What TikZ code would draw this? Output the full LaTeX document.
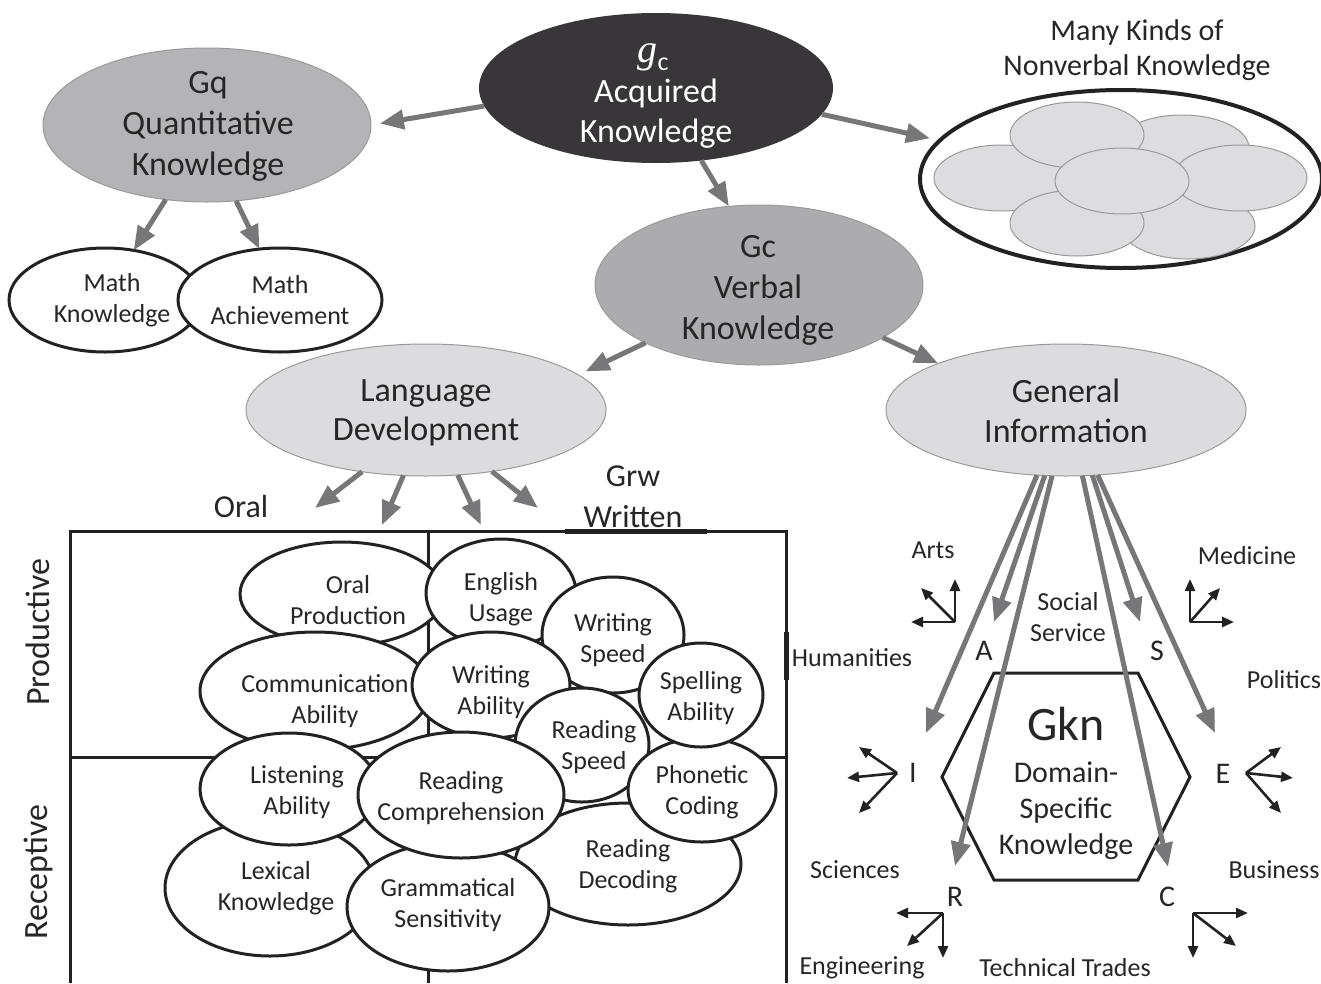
\documentclass[tikz,border=0pt]{standalone}
\usepackage{fontspec}
\setmainfont{Carlito}
\newfontfamily\gserif{Liberation Serif}
\usetikzlibrary{shapes.geometric,arrows.meta}
\definecolor{txt}{HTML}{262626}
\definecolor{arrowgray}{HTML}{77777A}
\definecolor{darkfill}{HTML}{383638}
\definecolor{gqgray}{HTML}{B4B4B6}
\definecolor{gcgray}{HTML}{ACACAE}
\definecolor{lightfill}{HTML}{DCDCDE}
\definecolor{nvfill}{HTML}{DDDDDF}
\definecolor{ink}{HTML}{222222}
\definecolor{rimgray}{HTML}{9A9A9C}
\newcommand\fsz[2]{\fontsize{#1}{#2}\selectfont}
\begin{document}
\begin{tikzpicture}[x=1pt,y=-1pt,
  ell/.style={ellipse, inner sep=0pt, outer sep=0pt},
  midell/.style={ell, draw=rimgray, line width=1pt},
  whiteell/.style={ell, fill=white, draw=ink, line width=3pt},
  nvell/.style={ell, fill=nvfill, draw=rimgray, line width=1pt, minimum width=134pt, minimum height=66pt},
  lab/.style={align=center, text=txt, inner sep=0pt},
  bigarrow/.style={draw=arrowgray, line width=5pt, -{Triangle[length=24pt,width=19pt]}},
  smallarrow/.style={draw=ink, line width=2.6pt, -{Triangle[length=12pt,width=10pt]}},
  gridline/.style={draw=ink, line width=3pt}
]
\useasboundingbox (0,0) rectangle (1321,983);

% ---------- top level ----------
\node[ell, fill=darkfill, minimum width=354pt, minimum height=150pt] (gc) at (656,88) {};
\node[lab, text=white] (gcG) at (653,57) {{\gserif\itshape\fsz{40}{40}g}\raisebox{-8pt}{\fsz{26}{26}c}};
\node[lab, text=white, font=\fsz{34}{40}] (gcT) at (656,114) {Acquired\\Knowledge};

\node[midell, fill=gqgray, minimum width=328pt, minimum height=154pt] (gq) at (207,125) {};
\node[lab, font=\fsz{34}{41}] (gqT) at (208,126) {Gq\\Quantitative\\Knowledge};

\node[whiteell, minimum width=192pt, minimum height=104pt] (mathk) at (105,300) {};
\node[whiteell, minimum width=204pt, minimum height=104pt] (matha) at (280,300) {};
\node[lab, font=\fsz{26}{31}] (mathkT) at (112,300) {Math\\Knowledge};
\node[lab, font=\fsz{26}{31}] (mathaT) at (280,300) {Math\\Achievement};

\node[midell, fill=gcgray, minimum width=328pt, minimum height=160pt] (gcv) at (759,285) {};
\node[lab, font=\fsz{34}{41}] (gcvT) at (758,290) {Gc\\Verbal\\Knowledge};

\node[midell, fill=lightfill, minimum width=360pt, minimum height=132pt] (lang) at (426,410) {};
\node[lab, font=\fsz{34}{39}] (langT) at (426,413) {Language\\Development};

\node[midell, fill=lightfill, minimum width=360pt, minimum height=132pt] (gen) at (1066,410) {};
\node[lab, font=\fsz{34}{40}] (genT) at (1066,411) {General\\Information};

% ---------- nonverbal ----------
\node[lab, font=\fsz{30}{35}] (nvT) at (1137,50) {Many Kinds of\\Nonverbal Knowledge};
\node[ell, fill=white, draw=ink, line width=4pt, minimum width=402pt, minimum height=178pt] (nv) at (1121,179) {};
\node[nvell] (nv2) at (1182,148) {};
\node[nvell] (nv6) at (1188,226) {};
\node[nvell] (nv3) at (1001,178) {};
\node[nvell] (nv4) at (1240,178) {};
\node[nvell] (nv1) at (1077,135) {};
\node[nvell] (nv5) at (1077,223) {};
\node[nvell] (nv7) at (1122,181) {};

% ---------- top arrows ----------
\draw[bigarrow, shorten >=9pt] (gc.186) -- (gq.east);
\draw[bigarrow] (gc.302) -- (gcv.111);
\draw[bigarrow, shorten >=10pt] (gc.351) -- (nv.168);
\draw[bigarrow] (gq.241) -- (mathk.60);
\draw[bigarrow] (gq.291) -- (matha.112);
\draw[bigarrow, shorten >=8pt] (gcv.207) -- (lang.13);
\draw[bigarrow] (gcv.337) -- (gen.160);

% ---------- language development arrows ----------
\coordinate (ld1) at (315,508);
\coordinate (ld2) at (382,525);
\coordinate (ld3) at (481,525);
\coordinate (ld4) at (538,508);
\draw[bigarrow] (lang.224) -- (ld1);
\draw[bigarrow] (lang.251) -- (ld2);
\draw[bigarrow] (lang.296) -- (ld3);
\draw[bigarrow] (lang.317) -- (ld4);

\node[lab, font=\fsz{32}{41}] (oralL) at (241,506) {Oral};
\node[lab, font=\fsz{32}{41}] (grwL) at (633,497) {Grw\\Written};

% ---------- grid ----------
\draw[gridline] (70,983) -- (70,531) -- (786,531) -- (786,983);
\draw[gridline] (428,531) -- (428,983);
\draw[gridline] (70,757) -- (786,757);
\draw[draw=ink, line width=5pt] (565,531) -- (707,531);
\draw[draw=ink, line width=5pt] (786,632) -- (786,680);
\node[lab, rotate=90, font=\fsz{34}{40}] (prodL) at (38,632) {Productive};
\node[lab, rotate=90, font=\fsz{34}{40}] (recL) at (38,872) {Receptive};

% ---------- grid ellipses ----------
\node[whiteell, minimum width=204pt, minimum height=104pt] (op) at (342,594) {};
\node[whiteell, minimum width=150pt, minimum height=108pt] (eu) at (501,593) {};
\node[whiteell, minimum width=230pt, minimum height=118pt] (ca) at (315,691) {};
\node[whiteell, minimum width=142pt, minimum height=116pt] (ws) at (613,635) {};
\node[whiteell, minimum width=158pt, minimum height=106pt] (wa) at (491,685) {};
\node[whiteell, minimum width=134pt, minimum height=114pt] (rs) at (582,745) {};
\node[whiteell, minimum width=226pt, minimum height=122pt] (rd) at (628,864) {};
\node[whiteell, minimum width=148pt, minimum height=104pt] (pc) at (702,790) {};
\node[whiteell, minimum width=124pt, minimum height=104pt] (sa) at (701,695) {};
\node[whiteell, minimum width=210pt, minimum height=136pt] (lk) at (270,888) {};
\node[whiteell, minimum width=178pt, minimum height=112pt] (la) at (289,789) {};
\node[whiteell, minimum width=202pt, minimum height=128pt] (gs) at (448,907) {};
\node[whiteell, minimum width=206pt, minimum height=126pt] (rc) at (461,795) {};

\node[lab, font=\fsz{26}{31}] (opT) at (348,600) {Oral\\Production};
\node[lab, font=\fsz{26}{31}] (euT) at (501,599) {English\\Usage};
\node[lab, font=\fsz{26}{31}] (caT) at (325,701) {Communication\\Ability};
\node[lab, font=\fsz{26}{31}] (wsT) at (613,640) {Writing\\Speed};
\node[lab, font=\fsz{26}{31}] (waT) at (491,692) {Writing\\Ability};
\node[lab, font=\fsz{26}{31}] (rsT) at (594,747) {Reading\\Speed};
\node[lab, font=\fsz{26}{31}] (rdT) at (628,866) {Reading\\Decoding};
\node[lab, font=\fsz{26}{31}] (pcT) at (702,792) {Phonetic\\Coding};
\node[lab, font=\fsz{26}{31}] (saT) at (701,698) {Spelling\\Ability};
\node[lab, font=\fsz{26}{31}] (lkT) at (276,888) {Lexical\\Knowledge};
\node[lab, font=\fsz{26}{31}] (laT) at (297,792) {Listening\\Ability};
\node[lab, font=\fsz{26}{31}] (gsT) at (448,905) {Grammatical\\Sensitivity};
\node[lab, font=\fsz{26}{31}] (rcT) at (461,798) {Reading\\Comprehension};

% ---------- Gkn hexagon ----------
\draw[draw=ink, line width=3pt, line join=miter] (994,673) -- (1138,673) -- (1190,777) -- (1138,880) -- (994,880) -- (942,777) -- cycle;
\node[lab, font=\fsz{48}{48}] (gknT) at (1066,724) {Gkn};
\node[lab, font=\fsz{30}{36}] (domT) at (1066,811) {Domain-\\Specific\\Knowledge};

\node[lab, font=\fsz{30}{30}] (lA) at (984,651) {A};
\node[lab, font=\fsz{30}{30}] (lS) at (1157,651) {S};
\node[lab, font=\fsz{30}{30}] (lI) at (913,773) {I};
\node[lab, font=\fsz{30}{30}] (lE) at (1223,774) {E};
\node[lab, font=\fsz{30}{30}] (lR) at (955,897) {R};
\node[lab, font=\fsz{30}{30}] (lC) at (1167,897) {C};

% ---------- General Information arrows ----------
\coordinate (tI) at (926,733);
\coordinate (tA) at (994,622);
\coordinate (tR) at (955,866);
\coordinate (tC) at (1168,867);
\coordinate (tS) at (1140,622);
\coordinate (tE) at (1215,733);
\draw[bigarrow] (gen.246) -- (tI);
\draw[bigarrow] (gen.252) -- (tA);
\draw[bigarrow] (gen.258) -- (tR);
\draw[bigarrow] (gen.284) -- (tC);
\draw[bigarrow] (gen.292) -- (tS);
\draw[bigarrow] (gen.296) -- (tE);

% ---------- small arrow clusters ----------
\coordinate (artsO) at (955,622);
\coordinate (arts1) at (955,579);
\coordinate (arts2) at (921,588);
\coordinate (arts3) at (911,622);
\draw[smallarrow] (artsO) -- (arts1);
\draw[smallarrow] (artsO) -- (arts2);
\draw[smallarrow] (artsO) -- (arts3);

\coordinate (medO) at (1190,622);
\coordinate (med1) at (1190,579);
\coordinate (med2) at (1220,588);
\coordinate (med3) at (1234,622);
\draw[smallarrow] (medO) -- (med1);
\draw[smallarrow] (medO) -- (med2);
\draw[smallarrow] (medO) -- (med3);

\coordinate (iO) at (897,773);
\coordinate (i1) at (859,747);
\coordinate (i2) at (847,778);
\coordinate (i3) at (859,813);
\draw[smallarrow] (iO) -- (i1);
\draw[smallarrow] (iO) -- (i2);
\draw[smallarrow] (iO) -- (i3);

\coordinate (eO) at (1246,773);
\coordinate (e1) at (1281,747);
\coordinate (e2) at (1293,778);
\coordinate (e3) at (1281,813);
\draw[smallarrow] (eO) -- (e1);
\draw[smallarrow] (eO) -- (e2);
\draw[smallarrow] (eO) -- (e3);

\coordinate (rO) at (943,913);
\coordinate (r1) at (896,913);
\coordinate (r2) at (907,946);
\coordinate (r3) at (943,958);
\draw[smallarrow] (rO) -- (r1);
\draw[smallarrow] (rO) -- (r2);
\draw[smallarrow] (rO) -- (r3);

\coordinate (cO) at (1193,913);
\coordinate (c1) at (1248,913);
\coordinate (c2) at (1236,946);
\coordinate (c3) at (1193,958);
\draw[smallarrow] (cO) -- (c1);
\draw[smallarrow] (cO) -- (c2);
\draw[smallarrow] (cO) -- (c3);

% ---------- domain labels ----------
\node[lab, font=\fsz{26}{31}] (artsL) at (933,550) {Arts};
\node[lab, font=\fsz{26}{31}] (medL) at (1247,556) {Medicine};
\node[lab, font=\fsz{26}{31}] (socL) at (1068,617) {Social\\Service};
\node[lab, font=\fsz{26}{31}] (humL) at (852,658) {Humanities};
\node[lab, font=\fsz{26}{31}] (polL) at (1284,680) {Politics};
\node[lab, font=\fsz{26}{31}] (sciL) at (855,870) {Sciences};
\node[lab, font=\fsz{26}{31}] (busL) at (1274,870) {Business};
\node[lab, font=\fsz{26}{31}] (engL) at (862,968) {Engineering};
\node[lab, font=\fsz{26}{31}] (techL) at (1065,968) {Technical Trades};
\end{tikzpicture}
\end{document}
